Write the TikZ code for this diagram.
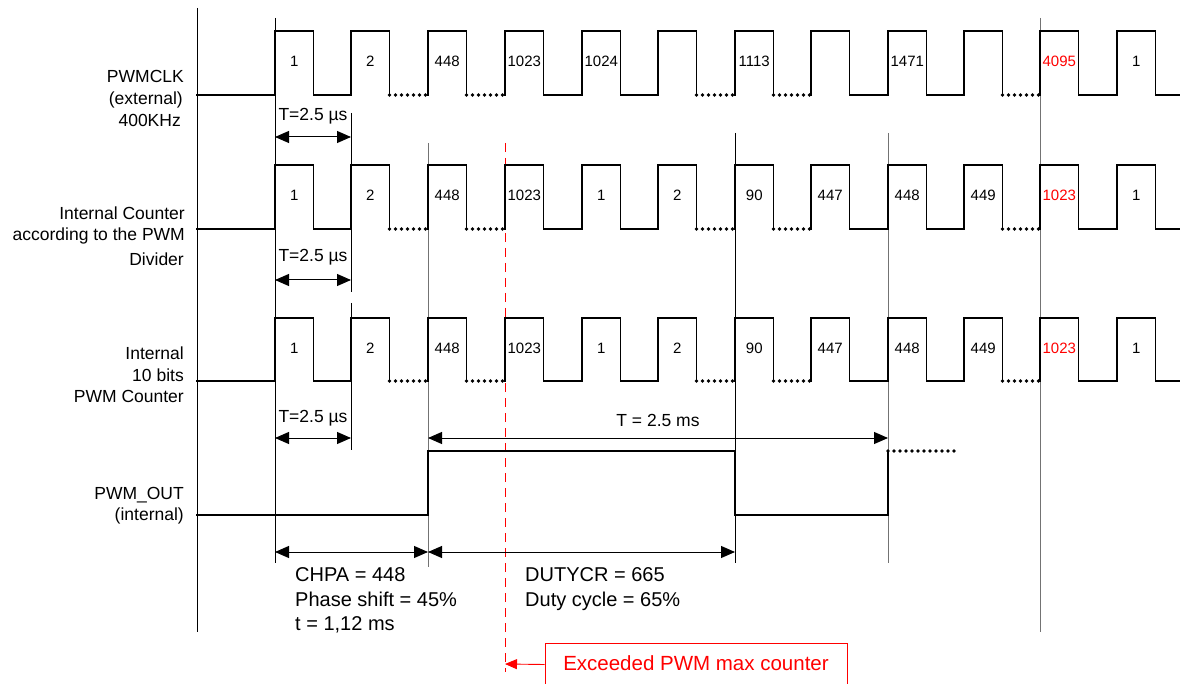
\documentclass[tikz,border=0pt]{standalone}
\usepackage{fontspec}
\setmainfont{Liberation Sans}
\usetikzlibrary{arrows.meta}
\newcommand\mywave[3]{%
  \draw[wave] (197,#2) -- (275,#2);
  \foreach \r/\n/\t/\l/\c in {#3}{%
    \draw[wave] (\r,#2) -- (\r,#1) -- (\r+38.5,#1) -- (\r+38.5,#2);
    \draw[seg\t] (\r+38.5,#2) -- (\n,#2);
    \node[cnt, text=\c] (n#2x\r) at (\r+19.25, {(#1+#2)/2}) {\l};
  }%
}
\begin{document}
\begin{tikzpicture}[x=1pt,y=-1pt,
  wave/.style={line width=1.7pt, line cap=rect, line join=miter},
  segs/.style={wave},
  segd/.style={line width=3.8pt, line cap=round, dash pattern=on 0pt off 6pt},
  guide/.style={line width=0.9pt},
  guidegray/.style={line width=1pt, draw=black!55},
  lbl/.style={inner sep=0pt, text height=0.716em, text depth=0pt, font=\fontsize{17.5}{21}\selectfont, anchor=east},
  cnt/.style={inner sep=0pt, text height=0.716em, text depth=0pt, font=\fontsize{15}{17}\selectfont},
  big/.style={inner sep=0pt, text height=0.716em, text depth=0pt, font=\fontsize{20}{24}\selectfont, anchor=west},
  tip/.tip={Triangle[length=14pt,width=12pt]},
  dim/.style={line width=1pt, {tip}-{tip}},
]
\useasboundingbox (0,0) rectangle (1180,684);

% guide lines
\draw[guide] (197,8) -- (197,632);
\draw[guide] (275,18) -- (275,563);
\draw[guide] (351,113) -- (351,292);
\draw[guide] (351,303) -- (351,450);
\draw[guidegray] (428,143) -- (428,567);
\draw[guide] (735,133) -- (735,563);
\draw[guidegray] (888,133) -- (888,563);
\draw[guidegray] (1040,18) -- (1040,632);
\draw[red, line width=0.9pt, dash pattern=on 9pt off 6pt] (505,143) -- (505,672);

% waveforms
\mywave{31}{95}{275/351/s/1/black, 351/428/d/2/black, 428/505/d/448/black, 505/582/s/1023/black, 582/658/s/1024/black, 658/735/d//black, 735/811/d/1113/black, 811/888/s//black, 888/964/s/1471/black, 964/1040/d//black, 1040/1117/s/4095/red, 1117/1180/s/1/black}
\mywave{165}{229}{275/351/s/1/black, 351/428/d/2/black, 428/505/d/448/black, 505/582/s/1023/black, 582/658/s/1/black, 658/735/d/2/black, 735/811/d/90/black, 811/888/s/447/black, 888/964/s/448/black, 964/1040/d/449/black, 1040/1117/s/1023/red, 1117/1180/s/1/black}
\mywave{318}{381}{275/351/s/1/black, 351/428/d/2/black, 428/505/d/448/black, 505/582/s/1023/black, 582/658/s/1/black, 658/735/d/2/black, 735/811/d/90/black, 811/888/s/447/black, 888/964/s/448/black, 964/1040/d/449/black, 1040/1117/s/1023/red, 1117/1180/s/1/black}

% PWM_OUT
\draw[wave] (197,515) -- (428,515) -- (428,451) -- (735,451) -- (735,515) -- (888,515) -- (888,451);
\draw[segd] (888,451) -- (958,451);

% left labels
\node[lbl] (l1a) at (184,79) {PWMCLK};
\node[lbl] (l1b) at (183,101) {(external)};
\node[lbl] (l1c) at (181,123) {400KHz};
\node[lbl] (l2a) at (185,216) {Internal Counter\ };
\node[lbl] (l2b) at (185,237) {according to the PWM};
\node[lbl] (l2c) at (184,262) {Divider};
\node[lbl] (l3a) at (184,356) {Internal};
\node[lbl] (l3b) at (184,378) {10 bits};
\node[lbl] (l3c) at (184,399) {PWM Counter};
\node[lbl] (l4a) at (184,496) {PWM\_OUT};
\node[lbl] (l4b) at (184,517) {(internal)};

% period dimensions
\draw[dim] (275,137) -- (351,137);
\node[lbl, anchor=center] (t1) at (313,117) {T=2.5 µs};
\draw[dim] (275,280) -- (351,280);
\node[lbl, anchor=center] (t2) at (313,258) {T=2.5 µs};
\draw[dim] (275,438) -- (351,438);
\node[lbl, anchor=center] (t3) at (313,419) {T=2.5 µs};
\draw[dim] (428,438) -- (888,438);
\node[lbl, anchor=center] (t4) at (658,423) {T = 2.5 ms};

% bottom dimensions
\draw[dim] (275,552) -- (428,552);
\draw[dim] (428,552) -- (735,552);
\node[big] (b1) at (295,578) {CHPA = 448};
\node[big] (b2) at (295,603) {Phase shift = 45\%};
\node[big] (b3) at (295,627) {t = 1,12 ms};
\node[big] (b4) at (525,578) {DUTYCR = 665};
\node[big] (b5) at (525,603) {Duty cycle = 65\%};

% note
\node[draw=red, line width=0.8pt, text=red, inner sep=0pt, minimum width=302pt, minimum height=43pt,
      font=\fontsize{20.5}{24}\selectfont] (note) at (696,664.5) {\rule[-0.1em]{0pt}{0.8em}Exceeded PWM max counter};
\coordinate (hit) at (505,664);
\draw[red, line width=0.9pt, -{Triangle[length=12pt,width=10pt]}] (note.west) -- (hit);
\end{tikzpicture}
\end{document}
